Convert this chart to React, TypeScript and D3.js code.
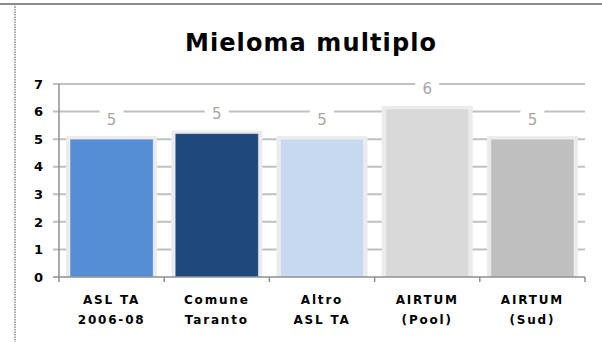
import * as d3 from "d3";

const categories = [
  ["ASL TA", "2006-08"],
  ["Comune", "Taranto"],
  ["Altro", "ASL TA"],
  ["AIRTUM", "(Pool)"],
  ["AIRTUM", "(Sud)"],
];
const values = [5.0, 5.2, 5.0, 6.1, 5.0];
const colors = ["#558ED5", "#1F497D", "#C6D9F1", "#D9D9D9", "#BFBFBF"];
const yTicks = [0, 1, 2, 3, 4, 5, 6, 7];

export default function App() {
  const width = 602;
  const height = 342;
  const left = 59;
  const right = 585;
  const top = 84;
  const bottom = 277;

  const keys = categories.map((c) => c.join(" "));
  const x = d3
    .scaleBand<string>()
    .domain(keys)
    .range([left, right])
    .paddingInner(0.21)
    .paddingOuter(0.105);
  const y = d3.scaleLinear().domain([0, 7]).range([bottom, top]);
  const fmt = d3.format(".0f");
  const step = x.step();

  return (
    <svg
      width={width}
      height={height}
      style={{ position: "absolute", left: 0, top: 0, background: "#fff" }}
    >
      {/* cornice */}
      <line x1={0} x2={width} y1={4} y2={4} stroke="#8c8c8c" strokeWidth={2} />
      <line
        x1={15}
        x2={15}
        y1={4}
        y2={height}
        stroke="#8c8c8c"
        strokeWidth={1.5}
        strokeDasharray="1.5 1"
      />

      <text
        x={311}
        y={51}
        textAnchor="middle"
        fontFamily="DejaVu Sans"
        fontWeight="bold"
        fontSize={24}
        letterSpacing={1.1}
        fill="#000"
      >
        Mieloma multiplo
      </text>

      {/* griglia */}
      {yTicks.map((t) => (
        <g key={t}>
          <line
            x1={left - 6}
            x2={right}
            y1={y(t)}
            y2={y(t)}
            stroke="#c0c0c0"
            strokeWidth={t === 0 ? 0 : 2}
          />
          <text
            x={43}
            y={y(t)}
            dy="0.36em"
            textAnchor="end"
            fontFamily="DejaVu Sans"
            fontWeight="bold"
            fontSize={13}
            fill="#000"
          >
            {t}
          </text>
        </g>
      ))}

      {/* barre */}
      {values.map((v, i) => {
        const bx = x(keys[i])!;
        const bw = x.bandwidth();
        return (
          <g key={i}>
            <rect
              x={bx - 4}
              y={y(v) - 3}
              width={bw + 8}
              height={bottom - y(v) + 3}
              fill="#ebebeb"
            />
            <rect
              x={bx}
              y={y(v)}
              width={bw}
              height={bottom - y(v)}
              fill={colors[i]}
              stroke="#ffffff"
              strokeOpacity={0.35}
              strokeWidth={1}
            />
            <rect
              x={bx + bw / 2 - 12}
              y={y(v) - 30}
              width={24}
              height={18}
              fill="#fff"
            />
            <text
              x={bx + bw / 2}
              y={y(v) - 20}
              dy="0.36em"
              textAnchor="middle"
              fontFamily="DejaVu Sans"
              fontSize={15}
              fill="#a6a6a6"
            >
              {fmt(v)}
            </text>
          </g>
        );
      })}

      {/* assi */}
      <line x1={left} x2={left} y1={top} y2={bottom} stroke="#8f8f8f" strokeWidth={1.5} />
      <line x1={left - 6} x2={right} y1={bottom} y2={bottom} stroke="#8f8f8f" strokeWidth={1.5} />
      {d3.range(categories.length + 1).map((i) => (
        <line
          key={i}
          x1={left + i * step}
          x2={left + i * step}
          y1={bottom}
          y2={bottom + 5}
          stroke="#8f8f8f"
          strokeWidth={1.5}
        />
      ))}

      {categories.map((c, i) => (
        <text
          key={i}
          x={x(keys[i])! + x.bandwidth() / 2}
          textAnchor="middle"
          fontFamily="DejaVu Sans"
          fontWeight="bold"
          fontSize={12}
          letterSpacing={1.8}
          fill="#000"
        >
          <tspan x={x(keys[i])! + x.bandwidth() / 2} y={304}>
            {c[0]}
          </tspan>
          <tspan x={x(keys[i])! + x.bandwidth() / 2} y={324}>
            {c[1]}
          </tspan>
        </text>
      ))}
    </svg>
  );
}
